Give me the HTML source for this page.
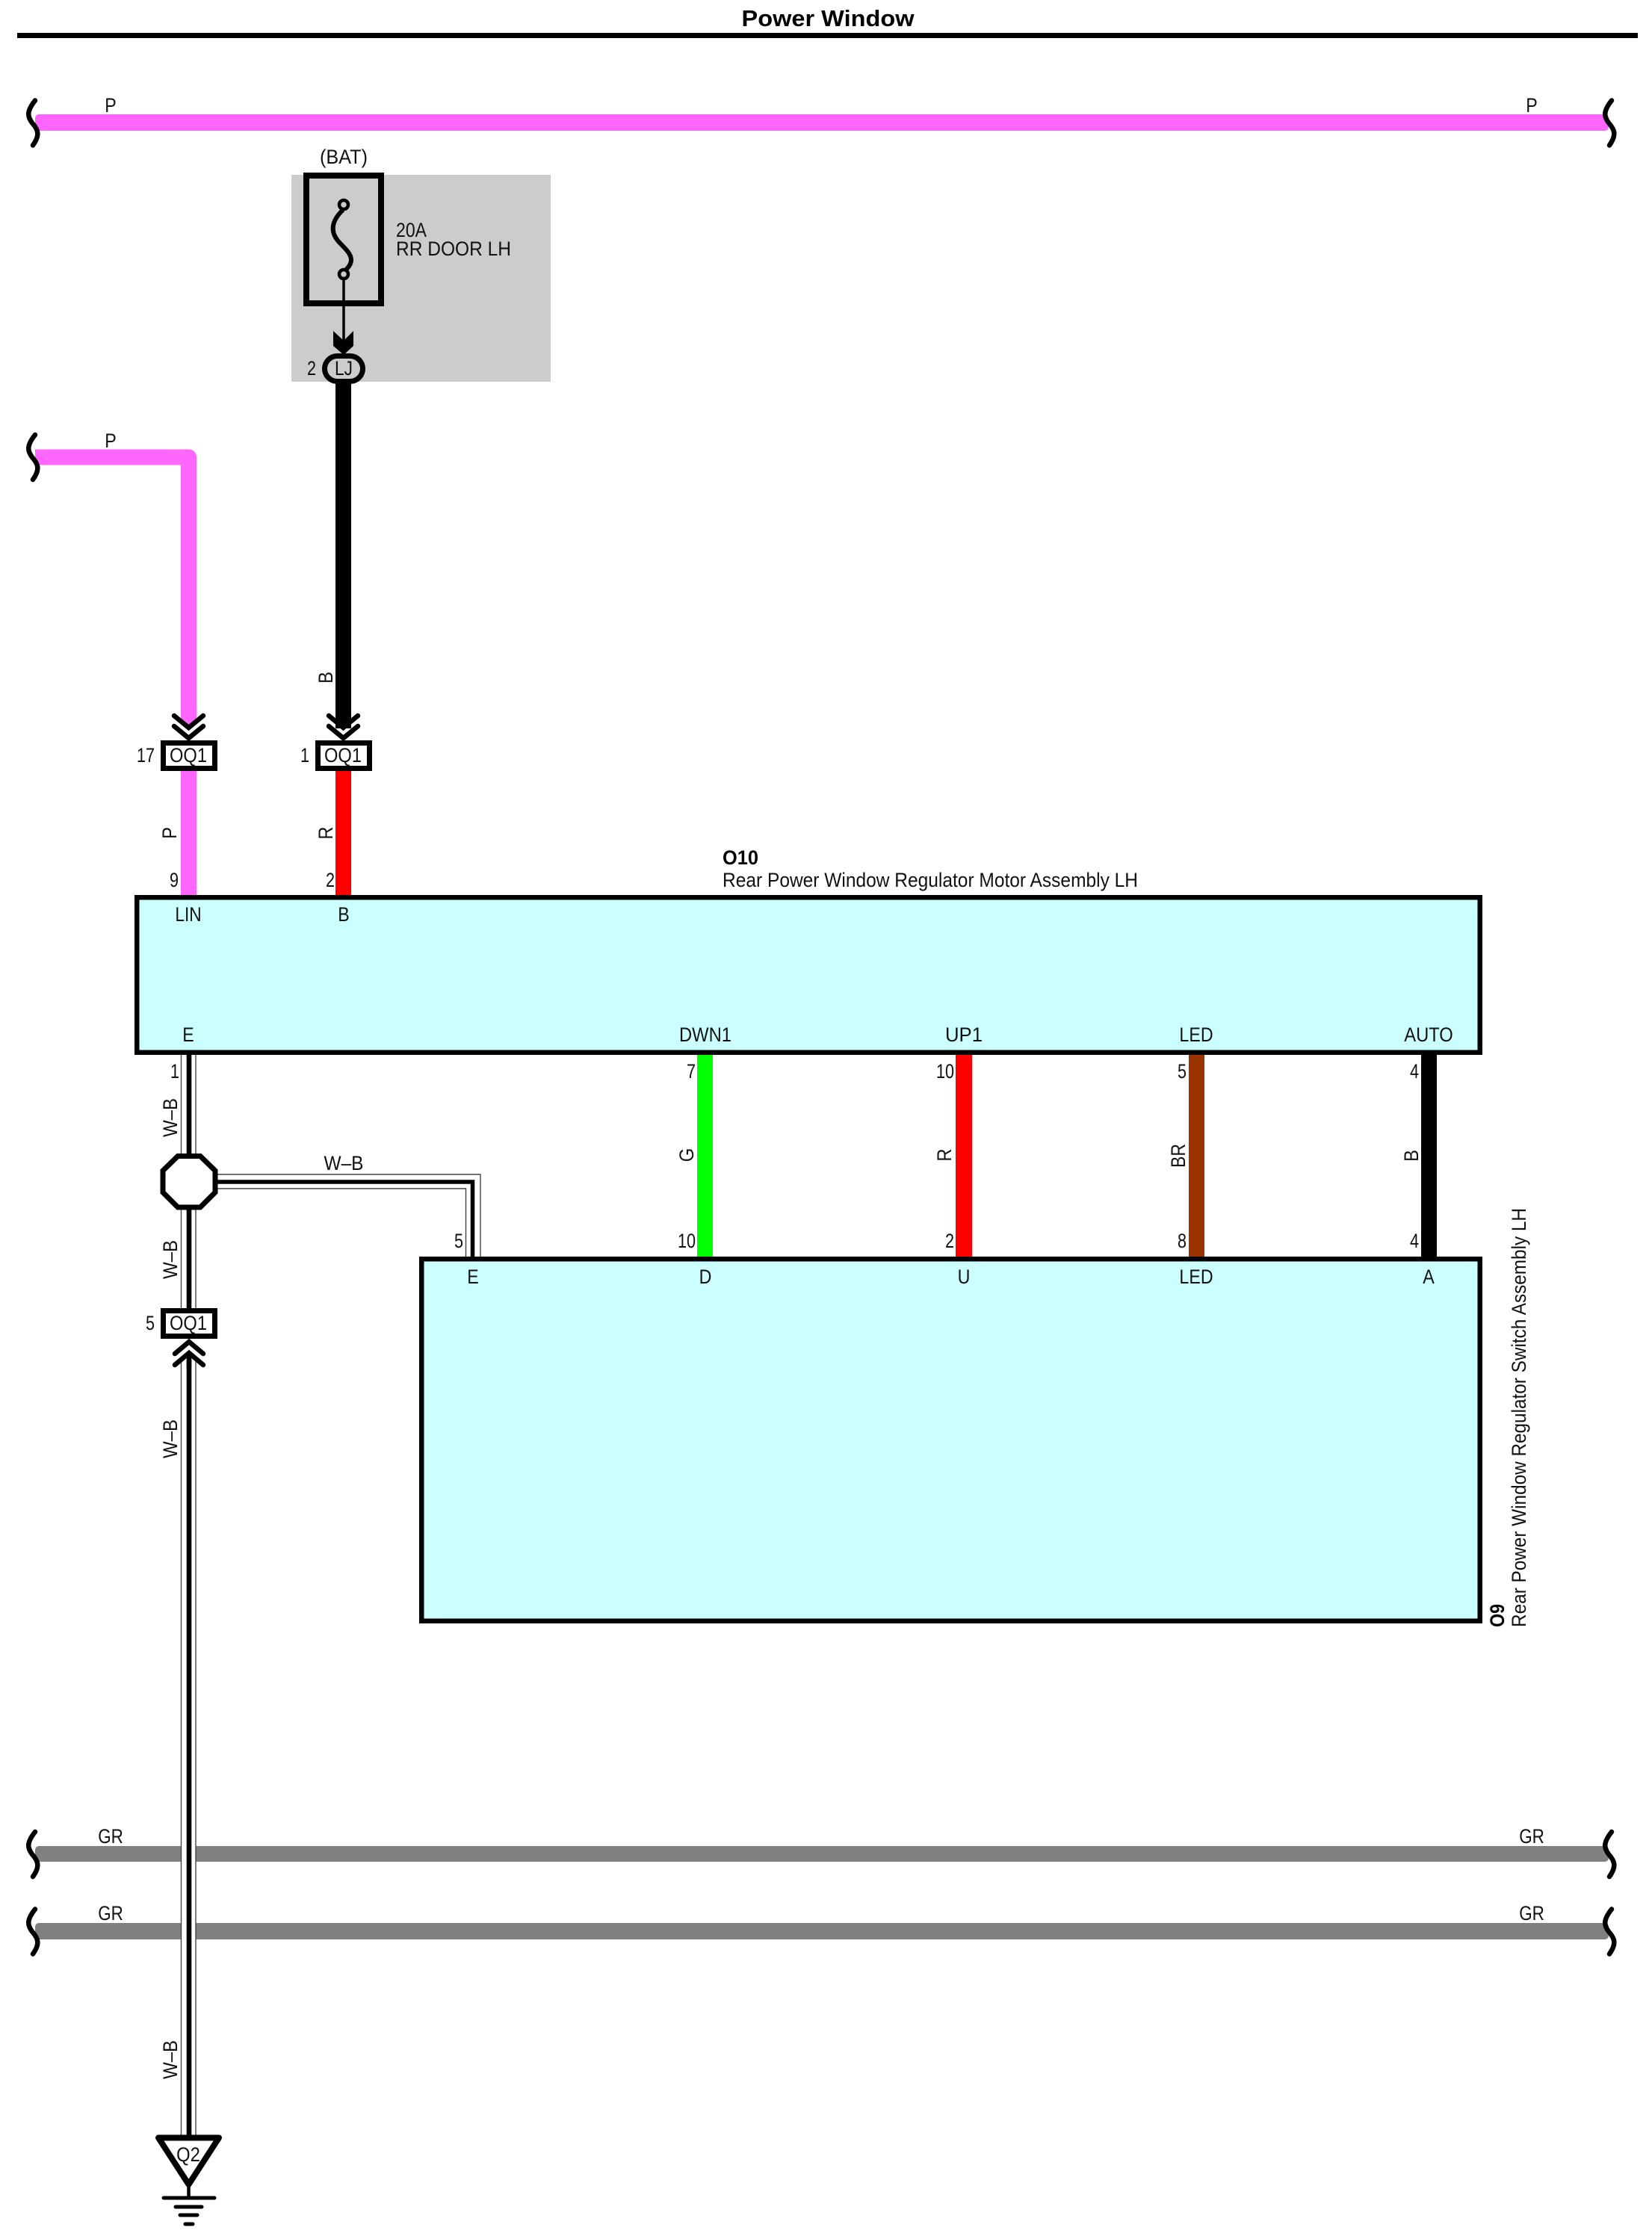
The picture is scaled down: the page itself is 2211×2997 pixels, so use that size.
<!DOCTYPE html>
<html><head><meta charset="utf-8"><title>Power Window</title>
<style>
html,body{margin:0;padding:0;background:#fff}
svg{display:block}
text{font-family:"Liberation Sans",Arial,sans-serif;font-size:27px;fill:#111;text-anchor:middle}
.sq{fill:none;stroke:#000;stroke-width:6.5;stroke-linecap:round}
.thin{fill:none;stroke:#444;stroke-width:1.4}
</style></head><body>
<svg xmlns="http://www.w3.org/2000/svg" width="2211" height="2997" viewBox="0 0 2211 2997">
<rect width="2211" height="2997" fill="#fff"/>
<!-- title -->
<text transform="translate(1108 35)" textLength="231" lengthAdjust="spacingAndGlyphs" style="font-size:31px;font-weight:bold;fill:#000">Power Window</text>
<rect x="23" y="44" width="2169" height="7" fill="#000"/>
<!-- top P bus -->
<rect x="47" y="153" width="2106" height="22" rx="5" fill="#ff66ff"/>
<text transform="translate(148 150) scale(.86 1)">P</text>
<text transform="translate(2050 150) scale(.86 1)">P</text>
<path class="sq" transform="translate(45 164.5)" d="M2,-30C-10,-15-8,-8-2,0C6,9 9,16-1,30"/>
<path class="sq" transform="translate(2155 164.5)" d="M2,-30C-10,-15-8,-8-2,0C6,9 9,16-1,30"/>
<!-- fuse block -->
<rect x="390" y="234" width="347" height="277" fill="#ccc"/>
<text transform="translate(460 219)" textLength="64" lengthAdjust="spacingAndGlyphs">(BAT)</text>
<rect x="410" y="235" width="100" height="171" fill="#ccc" stroke="#000" stroke-width="8"/>
<path d="M459,281C441,298 444,312 452,322C462,334 480,345 463,361" fill="none" stroke="#000" stroke-width="6"/>
<circle cx="460" cy="274" r="6" fill="#ccc" stroke="#000" stroke-width="4.500"/>
<circle cx="460" cy="367" r="6" fill="#ccc" stroke="#000" stroke-width="4.500"/>
<path d="M460,373V460" stroke="#000" stroke-width="3.500"/>
<path d="M446,443L460,456L473,443V463L460,475L446,463Z" fill="#000"/>
<text transform="translate(530 317)" textLength="41" lengthAdjust="spacingAndGlyphs" style="text-anchor:start">20A</text>
<text transform="translate(530 342)" textLength="154" lengthAdjust="spacingAndGlyphs" style="text-anchor:start">RR DOOR LH</text>
<rect x="449" y="505" width="21" height="470" fill="#000"/>
<rect x="434.500" y="476.500" width="51" height="34" rx="17" fill="#ccc" stroke="#000" stroke-width="7"/>
<text transform="translate(460 502) scale(.84 1)">LJ</text>
<text transform="translate(417 502) scale(.8 1)">2</text>
<!-- P L wire -->
<path d="M47,612H252.500V966" fill="none" stroke="#ff66ff" stroke-width="21" stroke-linejoin="round"/>
<path d="M242,960V966L252.500,975L263,966V960Z" fill="#ff66ff"/>
<text transform="translate(148 599) scale(.86 1)">P</text>
<path class="sq" transform="translate(45 612)" d="M2,-30C-10,-15-8,-8-2,0C6,9 9,16-1,30"/>
<!-- chevrons into OQ1 -->
<path d="M449,966L459.500,975L470,966V950H449Z" fill="#000"/>
<g fill="none" stroke="#000" stroke-width="6.500" stroke-linecap="round">
<path d="M233,958L252.500,974L272,958M233,972L252.500,988L272,972"/>
<path d="M440,958L459.500,974L479,958M440,972L459.500,988L479,972"/>
</g>
<!-- connector OQ1 top -->
<rect x="218.500" y="994.500" width="69" height="34" fill="#fff" stroke="#000" stroke-width="7"/>
<rect x="425.500" y="994.500" width="69" height="34" fill="#fff" stroke="#000" stroke-width="7"/>
<text transform="translate(252 1020)" textLength="50" lengthAdjust="spacingAndGlyphs">OQ1</text>
<text transform="translate(459 1020)" textLength="50" lengthAdjust="spacingAndGlyphs">OQ1</text>
<text transform="translate(195 1020) scale(.8 1)">17</text>
<text transform="translate(408 1020) scale(.8 1)">1</text>
<rect x="242" y="1032" width="21" height="168" fill="#ff66ff"/>
<rect x="449" y="1032" width="21" height="168" fill="#f00"/>
<text transform="translate(236 1115) rotate(-90) scale(.88 1)">P</text>
<text transform="translate(445 1115) rotate(-90) scale(.88 1)">R</text>
<text transform="translate(445 907) rotate(-90) scale(.88 1)">B</text>
<text transform="translate(233 1187) scale(.8 1)">9</text>
<text transform="translate(442 1187) scale(.8 1)">2</text>
<!-- O10 label -->
<text transform="translate(967 1157)" textLength="48" lengthAdjust="spacingAndGlyphs" style="text-anchor:start;font-weight:bold;fill:#000">O10</text>
<text transform="translate(967 1187)" textLength="556" lengthAdjust="spacingAndGlyphs" style="text-anchor:start">Rear Power Window Regulator Motor Assembly LH</text>
<!-- GR buses -->
<rect x="47" y="2471" width="2106" height="21" rx="5" fill="#808080"/>
<rect x="47" y="2574" width="2106" height="22" rx="5" fill="#808080"/>
<text transform="translate(148 2467) scale(.83 1)">GR</text>
<text transform="translate(148 2570) scale(.83 1)">GR</text>
<text transform="translate(2050 2467) scale(.83 1)">GR</text>
<text transform="translate(2050 2570) scale(.83 1)">GR</text>
<path class="sq" transform="translate(45 2482)" d="M2,-30C-10,-15-8,-8-2,0C6,9 9,16-1,30"/>
<path class="sq" transform="translate(2155 2482)" d="M2,-30C-10,-15-8,-8-2,0C6,9 9,16-1,30"/>
<path class="sq" transform="translate(45 2585.500)" d="M2,-30C-10,-15-8,-8-2,0C6,9 9,16-1,30"/>
<path class="sq" transform="translate(2155 2585.500)" d="M2,-30C-10,-15-8,-8-2,0C6,9 9,16-1,30"/>
<!-- W-B main wire -->
<rect x="242.500" y="1412" width="20" height="1448" fill="#fff"/>
<path class="thin" d="M242.500,1412V2860M262,1412V2860"/>
<rect x="249.700" y="1412" width="6.600" height="1448" fill="#000"/>
<!-- W-B branch -->
<path d="M286,1572H643V1684H623.500V1591H286Z" fill="#fff"/>
<path class="thin" d="M286,1572H643V1684M286,1591H623.500V1684"/>
<path d="M286,1582H632.500V1684" fill="none" stroke="#000" stroke-width="5.500"/>
<!-- splice -->
<path d="M238,1547.500H268L288,1567V1596L268,1616H238L218,1596V1567Z" fill="#fff" stroke="#000" stroke-width="7"/>
<!-- OQ1 bottom -->
<rect x="218.500" y="1754.500" width="69" height="34" fill="#fff" stroke="#000" stroke-width="7"/>
<text transform="translate(252 1780)" textLength="50" lengthAdjust="spacingAndGlyphs">OQ1</text>
<text transform="translate(201 1780) scale(.8 1)">5</text>
<rect x="238" y="1792" width="30" height="28" fill="#fff"/>
<g fill="none" stroke="#000" stroke-width="6.500" stroke-linecap="round">
<path d="M234,1812L253,1796L272,1812"/>
<path d="M234,1827L253,1811L272,1827"/>
<path d="M253,1812V1830" stroke-linecap="butt"/>
</g>
<text transform="translate(237 1496) rotate(-90)" textLength="52" lengthAdjust="spacingAndGlyphs">W–B</text>
<text transform="translate(237 1686) rotate(-90)" textLength="52" lengthAdjust="spacingAndGlyphs">W–B</text>
<text transform="translate(237 1926) rotate(-90)" textLength="52" lengthAdjust="spacingAndGlyphs">W–B</text>
<text transform="translate(237 2757) rotate(-90)" textLength="52" lengthAdjust="spacingAndGlyphs">W–B</text>
<text transform="translate(460 1566)" textLength="53" lengthAdjust="spacingAndGlyphs">W–B</text>
<text transform="translate(234 1443) scale(.8 1)">1</text>
<text transform="translate(614 1670) scale(.8 1)">5</text>
<!-- colored wires -->
<rect x="933" y="1412" width="21" height="272" fill="#0f0"/>
<rect x="1279" y="1412" width="22" height="272" fill="#f00"/>
<rect x="1591" y="1412" width="21" height="272" fill="#930"/>
<rect x="1902" y="1412" width="21" height="272" fill="#000"/>
<text transform="translate(925 1443) scale(.8 1)">7</text>
<text transform="translate(1265 1443) scale(.8 1)">10</text>
<text transform="translate(1582 1443) scale(.8 1)">5</text>
<text transform="translate(1893 1443) scale(.8 1)">4</text>
<text transform="translate(919 1670) scale(.8 1)">10</text>
<text transform="translate(1271 1670) scale(.8 1)">2</text>
<text transform="translate(1582 1670) scale(.8 1)">8</text>
<text transform="translate(1893 1670) scale(.8 1)">4</text>
<text transform="translate(928 1546) rotate(-90) scale(.88 1)">G</text>
<text transform="translate(1273 1546) rotate(-90) scale(.88 1)">R</text>
<text transform="translate(1586 1547) rotate(-90)" textLength="32" lengthAdjust="spacingAndGlyphs">BR</text>
<text transform="translate(1898 1547) rotate(-90) scale(.88 1)">B</text>
<!-- O10 box -->
<rect x="183.250" y="1201.250" width="1797.500" height="207.500" fill="#ccffff" stroke="#000" stroke-width="6.500"/>
<text transform="translate(252 1233) scale(.84 1)">LIN</text>
<text transform="translate(460 1233) scale(.86 1)">B</text>
<text transform="translate(252 1394) scale(.86 1)">E</text>
<text transform="translate(944 1394)" textLength="70" lengthAdjust="spacingAndGlyphs">DWN1</text>
<text transform="translate(1290 1394)" textLength="50" lengthAdjust="spacingAndGlyphs">UP1</text>
<text transform="translate(1601 1394) scale(.86 1)">LED</text>
<text transform="translate(1912 1394) scale(.88 1)">AUTO</text>
<!-- O9 box -->
<rect x="564.250" y="1685.250" width="1416.500" height="484.500" fill="#ccffff" stroke="#000" stroke-width="6.500"/>
<text transform="translate(633 1718) scale(.86 1)">E</text>
<text transform="translate(944 1718) scale(.86 1)">D</text>
<text transform="translate(1290 1718) scale(.86 1)">U</text>
<text transform="translate(1601 1718) scale(.86 1)">LED</text>
<text transform="translate(1912 1718) scale(.86 1)">A</text>
<text transform="translate(2013 2178) rotate(-90)" textLength="31" lengthAdjust="spacingAndGlyphs" style="text-anchor:start;font-weight:bold;fill:#000">O9</text>
<text transform="translate(2042 2178) rotate(-90)" textLength="561" lengthAdjust="spacingAndGlyphs" style="text-anchor:start">Rear Power Window Regulator Switch Assembly LH</text>
<!-- ground -->
<path d="M212,2861.500H293L252.500,2924Z" fill="#fff" stroke="#000" stroke-width="8" stroke-linejoin="round"/>
<text transform="translate(252 2893) scale(.88 1)">Q2</text>
<path d="M252.500,2925V2942" stroke="#000" stroke-width="4.500"/>
<g stroke="#000" stroke-width="5" stroke-linecap="round">
<path d="M219,2942H287"/><path d="M235,2954H270"/><path d="M241,2965H264"/><path d="M248,2977H258"/>
</g>
</svg>
</body></html>
